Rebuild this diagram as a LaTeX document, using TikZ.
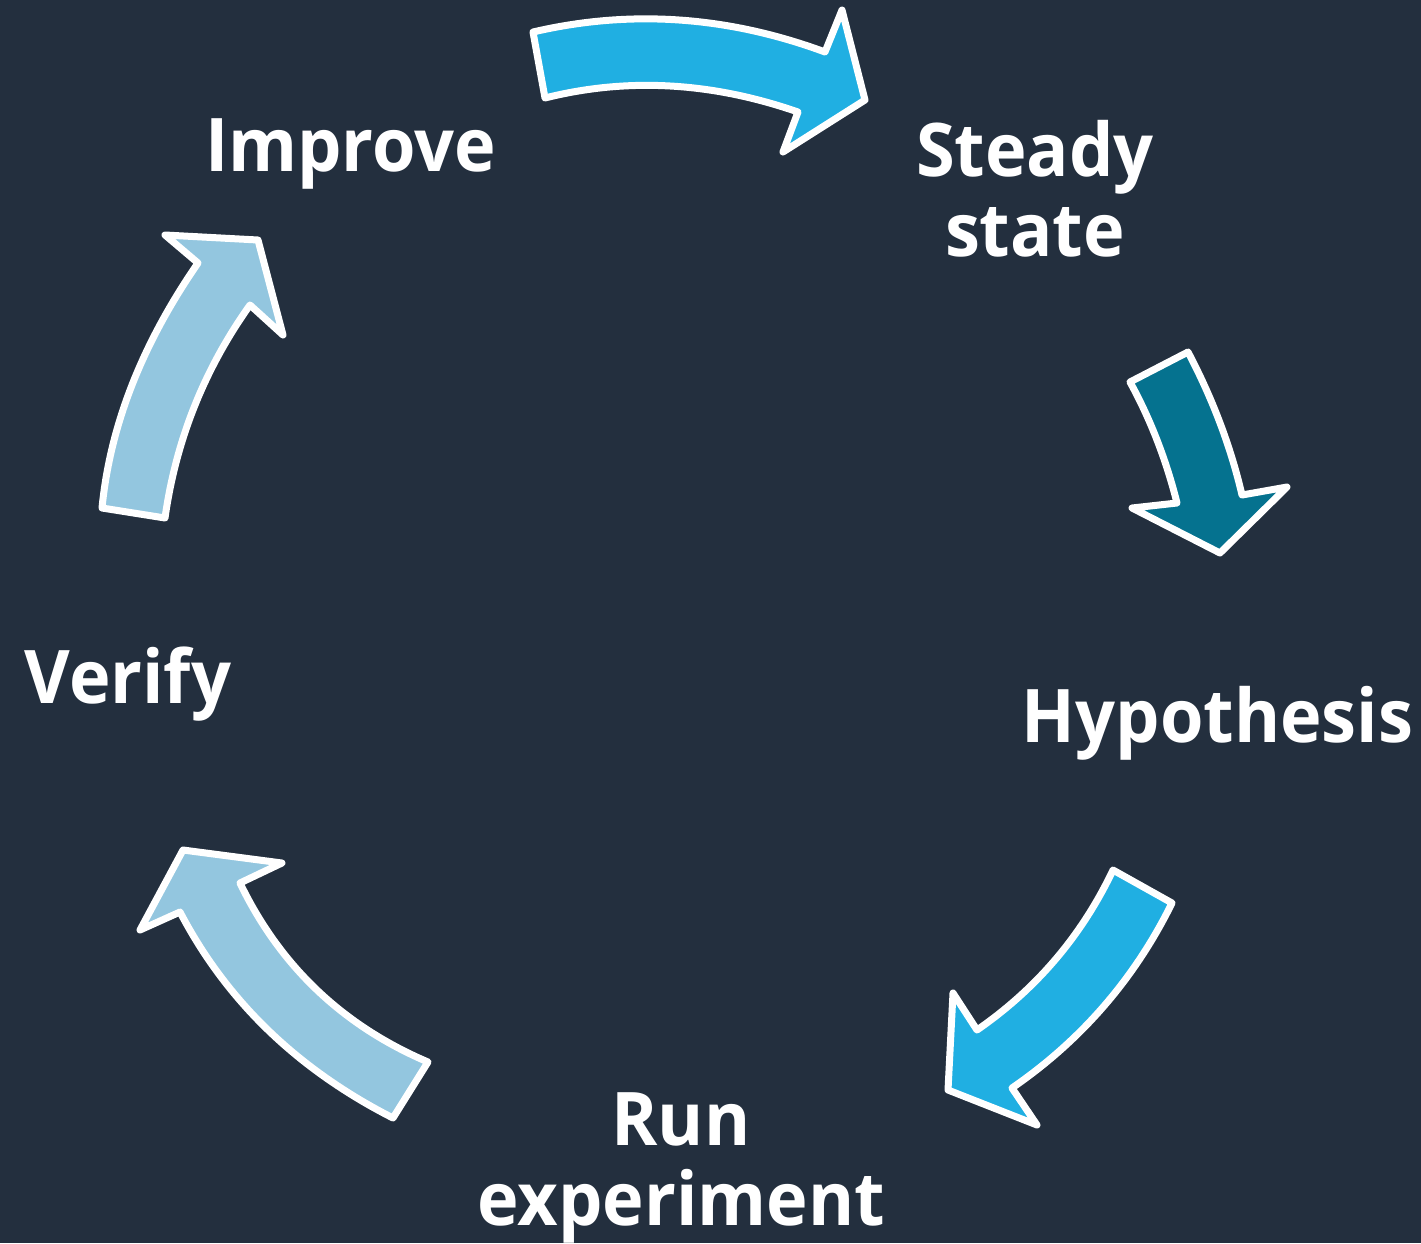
\documentclass[tikz,border=0pt]{standalone}
\usepackage{fontspec}
\newfontfamily\labelfont{Open Sans}[FakeStretch=0.95]
\definecolor{bgnavy}{HTML}{232F3E}
\definecolor{skyblue}{HTML}{20AFE2}
\definecolor{deepteal}{HTML}{05728F}
\definecolor{paleblue}{HTML}{93C6DF}
\tikzset{
  cyclearrow/.style={draw=white, line width=7pt, line join=round},
  steplabel/.style={text=white, inner sep=0pt, align=center,
    font=\labelfont\bfseries\fontsize{74}{80}\selectfont}
}
\begin{document}
\begin{tikzpicture}[x=1pt, y=-1pt]
  % backdrop
  \fill[bgnavy] (0,0) rectangle (1421,1243);
  \useasboundingbox (0,0) rectangle (1421,1243);

  % Improve -> Steady state
  \fill[skyblue, cyclearrow] (533,32) .. controls (630.3,9.3) and (727.7,16) .. (825,52)
    -- (842,10) -- (865,100) -- (783,152) -- (798,112)
    .. controls (711.7,82) and (627.3,77.3) .. (545,98) -- cycle;

  % Steady state -> Hypothesis
  \fill[deepteal, cyclearrow] (1188,352) .. controls (1212.7,399) and (1230.7,446.7) .. (1242,495)
    -- (1287,487) -- (1220,553) -- (1132,508) -- (1177,503)
    .. controls (1166,459.3) and (1150.3,419) .. (1130,382) -- cycle;

  % Hypothesis -> Run experiment
  \fill[skyblue, cyclearrow] (1172,903) .. controls (1134.7,978.7) and (1081.3,1040.3) .. (1012,1088)
    -- (1037,1125) -- (948,1090) -- (953,993) -- (977,1030)
    .. controls (1036.6,988.8) and (1081.9,935.5) .. (1113,870) -- cycle;

  % Run experiment -> Verify
  \fill[paleblue, cyclearrow] (393,1118) .. controls (297.3,1069.3) and (226.3,1000.7) .. (180,912)
    -- (140,930) -- (183,850) -- (282,863) -- (240,883)
    .. controls (280,966) and (342.7,1025.7) .. (428,1062) -- cycle;

  % Verify -> Improve
  \fill[paleblue, cyclearrow] (102,508) .. controls (110,425.7) and (142,344) .. (198,263)
    -- (165,235) -- (258,240) -- (283,335) -- (250,305)
    .. controls (204.3,369.1) and (176,440.1) .. (165,518) -- cycle;

  % step labels
  \node[steplabel, anchor=base] (improve) at (350.5,171) {Improve};
  \node[steplabel] (steady) at (1035,189) {Steady\\state};
  \node[steplabel, anchor=base] (hypothesis) at (1217.5,742) {Hypothesis};
  \node[steplabel] (run) at (681,1168) {Run\\experiment};
  \node[steplabel, anchor=base] (verify) at (128,703) {Verify};
\end{tikzpicture}
\end{document}
